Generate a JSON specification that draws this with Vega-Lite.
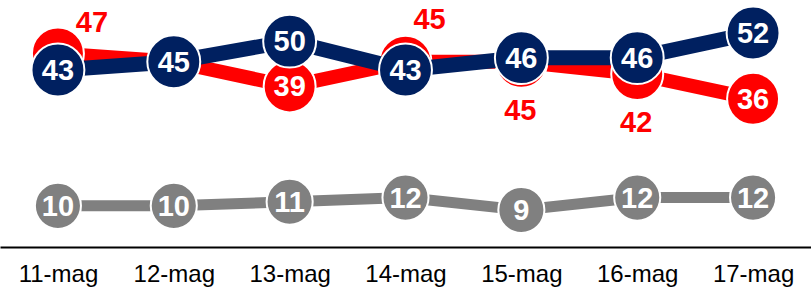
{
  "$schema": "https://vega.github.io/schema/vega-lite/v6.json",
  "width": 811,
  "height": 247,
  "autosize": {"type": "none"},
  "padding": {"top": 0, "left": 0, "right": 0, "bottom": 43},
  "background": "white",
  "config": {"view": {"stroke": null}},
  "data": {
    "values": [
      {"date": "11-mag", "series": "blu", "value": 43},
      {"date": "12-mag", "series": "blu", "value": 45},
      {"date": "13-mag", "series": "blu", "value": 50},
      {"date": "14-mag", "series": "blu", "value": 43},
      {"date": "15-mag", "series": "blu", "value": 46},
      {"date": "16-mag", "series": "blu", "value": 46},
      {"date": "17-mag", "series": "blu", "value": 52},
      {"date": "11-mag", "series": "rosso", "value": 47},
      {"date": "12-mag", "series": "rosso", "value": 45},
      {"date": "13-mag", "series": "rosso", "value": 39},
      {"date": "14-mag", "series": "rosso", "value": 45},
      {"date": "15-mag", "series": "rosso", "value": 45},
      {"date": "16-mag", "series": "rosso", "value": 42},
      {"date": "17-mag", "series": "rosso", "value": 36},
      {"date": "11-mag", "series": "grigio", "value": 10},
      {"date": "12-mag", "series": "grigio", "value": 10},
      {"date": "13-mag", "series": "grigio", "value": 11},
      {"date": "14-mag", "series": "grigio", "value": 12},
      {"date": "15-mag", "series": "grigio", "value": 9},
      {"date": "16-mag", "series": "grigio", "value": 12},
      {"date": "17-mag", "series": "grigio", "value": 12}
    ]
  },
  "encoding": {
    "x": {
      "field": "date", "type": "ordinal",
      "scale": {"type": "point", "padding": 0.5, "domain": ["11-mag","12-mag","13-mag","14-mag","15-mag","16-mag","17-mag"]},
      "axis": {
        "title": null, "ticks": false, "grid": false,
        "domainColor": "#000000", "domainWidth": 2,
        "labelFont": "Liberation Sans", "labelFontSize": 24, "labelColor": "#000000",
        "labelPadding": 15, "labelAngle": 0
      }
    },
    "y": {
      "field": "value", "type": "quantitative",
      "scale": {"domain": [0, 60], "nice": false, "zero": true},
      "axis": null
    }
  },
  "layer": [
    {
      "transform": [{"filter": "datum.series == 'grigio'"}],
      "mark": {"type": "line", "color": "#808080", "strokeWidth": 11}
    },
    {
      "transform": [{"filter": "datum.series == 'grigio'"}],
      "mark": {"type": "point", "shape": "circle", "filled": true, "fill": "#808080", "opacity": 1, "size": 2124, "stroke": "white", "strokeWidth": 2}
    },
    {
      "transform": [{"filter": "datum.series == 'rosso'"}],
      "mark": {"type": "line", "color": "#FF0000", "strokeWidth": 14}
    },
    {
      "transform": [{"filter": "datum.series == 'rosso'"}],
      "mark": {"type": "point", "shape": "circle", "filled": true, "fill": "#FF0000", "opacity": 1, "size": 2700, "stroke": "white", "strokeWidth": 2}
    },
    {
      "transform": [{"filter": "datum.series == 'blu'"}],
      "mark": {"type": "line", "color": "#002060", "strokeWidth": 15}
    },
    {
      "transform": [{"filter": "datum.series == 'blu'"}],
      "mark": {"type": "point", "shape": "circle", "filled": true, "fill": "#002060", "opacity": 1, "size": 2800, "stroke": "white", "strokeWidth": 2}
    },
    {
      "transform": [{"filter": "datum.series != 'rosso' || datum.date == '13-mag' || datum.date == '17-mag'"}],
      "mark": {"type": "text", "font": "Liberation Sans", "fontSize": 29, "fontWeight": "bold", "fill": "white", "align": "center", "baseline": "middle", "dy": 1},
      "encoding": {"text": {"field": "value", "type": "quantitative"}}
    },
    {
      "transform": [{"filter": "datum.series == 'rosso' && datum.date == '11-mag'"}],
      "mark": {"type": "text", "font": "Liberation Sans", "fontSize": 29, "fontWeight": "bold", "fill": "#FF0000", "align": "center", "baseline": "middle", "dx": 34, "dy": -31},
      "encoding": {"text": {"field": "value", "type": "quantitative"}}
    },
    {
      "transform": [{"filter": "datum.series == 'rosso' && datum.date == '14-mag'"}],
      "mark": {"type": "text", "font": "Liberation Sans", "fontSize": 29, "fontWeight": "bold", "fill": "#FF0000", "align": "center", "baseline": "middle", "dx": 24, "dy": -42},
      "encoding": {"text": {"field": "value", "type": "quantitative"}}
    },
    {
      "transform": [{"filter": "datum.series == 'rosso' && (datum.date == '15-mag' || datum.date == '16-mag')"}],
      "mark": {"type": "text", "font": "Liberation Sans", "fontSize": 29, "fontWeight": "bold", "fill": "#FF0000", "align": "center", "baseline": "middle", "dx": -1, "dy": 49},
      "encoding": {"text": {"field": "value", "type": "quantitative"}}
    }
  ]
}
